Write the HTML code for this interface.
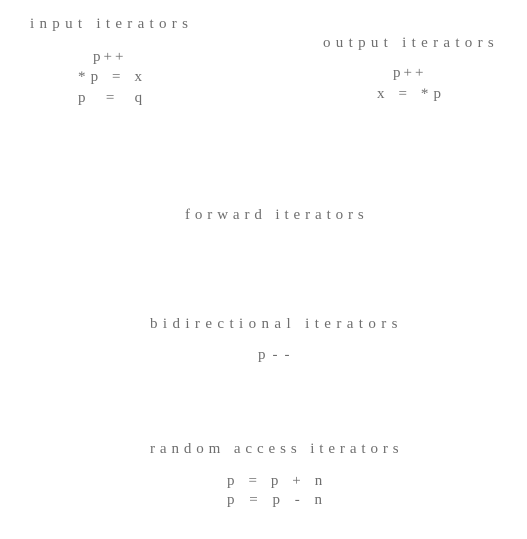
<!DOCTYPE html>
<html><head><meta charset="utf-8"><style>
html,body{margin:0;padding:0;background:#fff;width:527px;height:539px;overflow:hidden}
.t{position:absolute;font-family:"Liberation Serif",serif;font-size:15px;color:#555;white-space:nowrap;line-height:18px;letter-spacing:3px;opacity:.85}
</style></head><body>
<div class="t" style="left:30px;top:15px;letter-spacing:5.3px">input iterators</div>
<div class="t" style="left:93px;top:48px">p++</div>
<div class="t" style="left:78px;top:68px;letter-spacing:5.1px">*p = x</div>
<div class="t" style="left:78px;top:89px;letter-spacing:8.3px">p = q</div>
<div class="t" style="left:323px;top:34px;letter-spacing:5.3px">output iterators</div>
<div class="t" style="left:393px;top:64px">p++</div>
<div class="t" style="left:377px;top:85px;letter-spacing:5.1px">x = *p</div>
<div class="t" style="left:185px;top:206px;letter-spacing:4.9px">forward iterators</div>
<div class="t" style="left:150px;top:315px;letter-spacing:5.4px">bidirectional iterators</div>
<div class="t" style="left:258px;top:346px;letter-spacing:7px">p--</div>
<div class="t" style="left:150px;top:440px;letter-spacing:4.9px">random access iterators</div>
<div class="t" style="left:227px;top:472px;letter-spacing:5.1px">p = p + n</div>
<div class="t" style="left:227px;top:491px;letter-spacing:5.5px">p = p - n</div>
</body></html>
